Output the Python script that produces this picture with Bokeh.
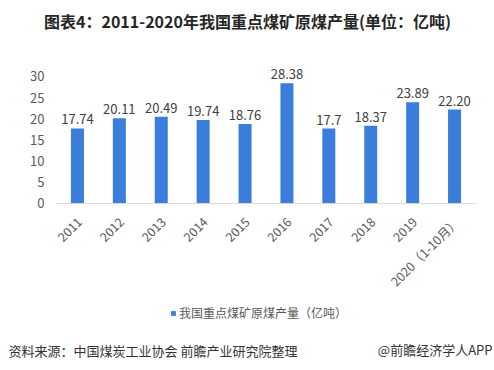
from math import pi
from bokeh.plotting import figure
from bokeh.models import (ColumnDataSource, FactorRange, Range1d, FixedTicker, Span,
                          Label, Legend, LegendItem)
from bokeh.core.properties import value
from bokeh.embed import file_html
from bokeh.resources import INLINE

categories = ["2011", "2012", "2013", "2014", "2015", "2016", "2017", "2018", "2019", "2020（1-10月）"]
production = [17.74, 20.11, 20.49, 19.74, 18.76, 28.38, 17.70, 18.37, 23.89, 22.20]
value_labels = ["17.74", "20.11", "20.49", "19.74", "18.76", "28.38", "17.7", "18.37", "23.89", "22.20"]
y_ticks = [0, 5, 10, 15, 20, 25, 30]

title_text = "图表4：2011-2020年我国重点煤矿原煤产量(单位：亿吨)"
series_name = "我国重点煤矿原煤产量（亿吨）"
source_text = "资料来源：中国煤炭工业协会 前瞻产业研究院整理"
brand_text = "@前瞻经济学人APP"

FONT = "Noto Sans CJK SC"
BAR = "#3A7DDA"

src = ColumnDataSource(dict(cat=categories, val=production, lab=value_labels,
                            zero=[0] * len(categories)))

p = figure(width=494, height=370, output_backend="svg", toolbar_location=None,
           x_range=FactorRange(*categories, range_padding=0),
           y_range=Range1d(-30.0, 38.5),
           min_border_left=56, min_border_right=19, min_border_top=40, min_border_bottom=40)
p.outline_line_color = None
p.background_fill_color = "white"
p.border_fill_color = "white"
p.xgrid.visible = False
p.ygrid.visible = False
p.xaxis.visible = False

ya = p.yaxis[0]
ya.ticker = FixedTicker(ticks=y_ticks)
ya.axis_line_color = None
ya.major_tick_line_color = None
ya.minor_tick_line_color = None
ya.major_tick_out = 0
ya.major_tick_in = 0
ya.major_label_standoff = 12
ya.major_label_text_font = FONT
ya.major_label_text_font_size = "13px"
ya.major_label_text_color = "#595959"

bars = p.vbar(x="cat", top="val", width=0.31, source=src, fill_color=BAR, line_color=None)

p.add_layout(Span(location=0, dimension="width", line_color="#D9D9D9", line_width=1))

p.text(x="cat", y="val", text="lab", source=src, text_align="center", text_baseline="bottom",
       y_offset=-4, text_font=value(FONT), text_font_size="13px", text_color="#404040")

p.text(x="cat", y="zero", text="cat", source=src, angle=pi / 4, text_align="right",
       text_baseline="middle", x_offset=2, y_offset=16, text_font=value(FONT),
       text_font_size="12.5px", text_color="#595959")

legend = Legend(items=[LegendItem(label=series_name, renderers=[bars])],
                location=(114, 9), orientation="horizontal", padding=0, margin=0,
                spacing=0, glyph_width=6, glyph_height=6, label_standoff=3, label_height=16,
                label_text_font=FONT, label_text_font_size="12px", label_text_color="#595959",
                border_line_color=None, background_fill_alpha=0)
p.add_layout(legend, "center")

p.add_layout(Label(x=191, y=20, x_units="screen", y_units="screen", text=title_text,
                   text_align="center", text_baseline="middle", text_font=FONT,
                   text_font_size="16px", text_font_style="bold", text_color="#262626"), "above")
p.add_layout(Label(x=-48, y=-1, x_units="screen", y_units="screen", text=source_text,
                   text_align="left", text_baseline="middle", text_font=FONT,
                   text_font_size="13px", text_color="#333333"), "below")
p.add_layout(Label(x=436, y=19, x_units="screen", y_units="screen", text=brand_text,
                   text_align="right", text_baseline="middle", text_font=FONT,
                   text_font_size="13px", text_color="#333333"), "below")

open("out.html", "w").write(file_html(p, INLINE))
